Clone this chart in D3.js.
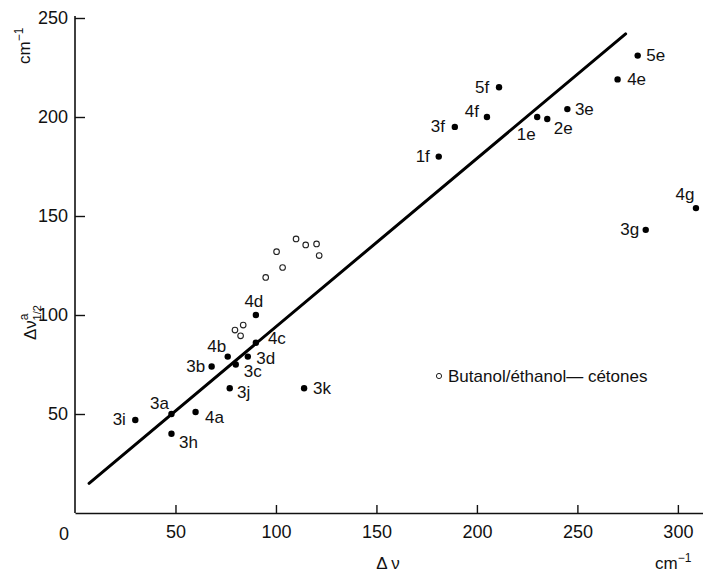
<!DOCTYPE html>
<html>
<head>
<meta charset="utf-8">
<script src="https://cdn.jsdelivr.net/npm/d3@7"></script>
<style>
  html, body { margin: 0; padding: 0; background: #fff; }
  svg { display: block; }
  text { font-family: "Liberation Sans", Arial, sans-serif; fill: #111; }
</style>
</head>
<body>
<svg id="chart" width="703" height="574"></svg>
<script>
// Compounds (filled dots): Δν vs Δν½ᵃ, both in cm⁻¹
const compounds = ["1e","2e","3e","4e","5e","1f","3f","4f","5f","3a","3b","3c","3d","3h","3i","3j","3k","4a","4b","4c","4d","3g","4g"];
const deltaNu   = [230, 235, 245, 270, 280, 181, 189, 205, 211, 48, 68, 80, 86, 48, 30, 77, 114, 60, 76, 90, 90, 284, 309];
const halfWidth = [200, 199, 204, 219, 231, 180, 195, 200, 215, 50, 74, 75, 79, 40, 47, 63, 63, 51, 79, 86, 100, 143, 154];

// Butanol/ethanol – ketone mixtures (open circles)
const mixNu   = [79.6, 83.7, 82.4, 94.9, 100.3, 103.3, 110, 114.8, 120.2, 121.5];
const mixHalf = [92.4, 94.9, 89.5, 119, 132, 124, 138.4, 135.4, 135.9, 130];

// Regression line end points
const fitNu   = [7, 274];
const fitHalf = [15, 242];

// Axis ticks
const xTicks = [50, 100, 150, 200, 250, 300];
const yTicks = [50, 100, 150, 200, 250];

// Label placement (pixel offsets of label centre from its dot)
const labelOffset = {
  "1e": [-11, 17], "2e": [16, 10], "3e": [17, 0], "4e": [19, 0], "5e": [18, 0],
  "1f": [-16, 0], "3f": [-17, 0], "4f": [-15, -6], "5f": [-17, 0],
  "3a": [-12, -11], "3b": [-16, 0], "3c": [17, 7], "3d": [18, 2], "3h": [17, 9],
  "3i": [-16, 0], "3j": [14, 4], "3k": [18, 0], "4a": [19, 5], "4b": [-11, -10],
  "4c": [21, -4], "4d": [-2, -14], "3g": [-16, 0], "4g": [-11, -14]
};

const svg = d3.select("#chart");
const x = d3.scaleLinear().domain([0, 312.5]).range([75, 703]);
const y = d3.scaleLinear().domain([0, 250]).range([513, 18]);

// Axes with inward ticks
const gx = svg.append("g").attr("transform", `translate(0,${y(0)})`)
  .call(d3.axisBottom(x).tickValues(xTicks).tickSizeInner(-8).tickSizeOuter(0).tickPadding(12));
const gy = svg.append("g").attr("transform", `translate(${x(0)},0)`)
  .call(d3.axisLeft(y).tickValues(yTicks).tickSizeInner(-10).tickSizeOuter(0).tickPadding(7));
[gx, gy].forEach(g => {
  g.select(".domain").attr("stroke", "#111").attr("stroke-width", 1.6);
  g.selectAll(".tick line").attr("stroke", "#111").attr("stroke-width", 1.4);
  g.selectAll(".tick text").attr("font-size", 18).attr("fill", "#111")
    .attr("font-family", "Liberation Sans, Arial, sans-serif");
});
// extend y axis to the top tick
gy.select(".domain").attr("d", `M0,${y(0)}V${y(250) - 2}`);

// Origin label
svg.append("text").attr("x", 64).attr("y", 540).attr("text-anchor", "middle")
  .attr("font-size", 18).text("0");

// Axis titles
svg.append("text").attr("x", 388).attr("y", 569).attr("text-anchor", "middle")
  .attr("font-size", 17).text("Δ ν");
const xu = svg.append("text").attr("x", 655).attr("y", 569).attr("font-size", 17);
xu.append("tspan").text("cm");
xu.append("tspan").attr("dy", -7).attr("font-size", 12).text("−1");

const yu = svg.append("text").attr("transform", "translate(30,64) rotate(-90)").attr("font-size", 17);
yu.append("tspan").text("cm");
yu.append("tspan").attr("dy", -7).attr("font-size", 12).text("−1");

const yl = svg.append("text").attr("transform", "translate(36,340) rotate(-90)").attr("font-size", 17);
yl.append("tspan").text("Δν");
yl.append("tspan").attr("dy", -8).attr("font-size", 12).text("a");
yl.append("tspan").attr("dy", 13).attr("dx", -7).attr("font-size", 11).text("1/2");

// Regression line
svg.append("line")
  .attr("x1", x(fitNu[0])).attr("y1", y(fitHalf[0]))
  .attr("x2", x(fitNu[1])).attr("y2", y(fitHalf[1]))
  .attr("stroke", "#000").attr("stroke-width", 3).attr("stroke-linecap", "round");

// Open circles
svg.append("g").selectAll("circle").data(mixNu).join("circle")
  .attr("cx", d => x(d)).attr("cy", (d, i) => y(mixHalf[i]))
  .attr("r", 2.8).attr("fill", "#fff").attr("stroke", "#222").attr("stroke-width", 1.1);

// Filled dots and their labels
const pts = compounds.map((c, i) => ({ c, nu: deltaNu[i], h: halfWidth[i] }));
svg.append("g").selectAll("circle").data(pts).join("circle")
  .attr("cx", d => x(d.nu)).attr("cy", d => y(d.h)).attr("r", 3.2).attr("fill", "#000");
svg.append("g").selectAll("text").data(pts).join("text")
  .attr("x", d => x(d.nu) + labelOffset[d.c][0])
  .attr("y", d => y(d.h) + labelOffset[d.c][1])
  .attr("text-anchor", "middle").attr("dominant-baseline", "central")
  .attr("font-size", 17).text(d => d.c);

// Legend
svg.append("circle").attr("cx", 439).attr("cy", 376).attr("r", 2.6)
  .attr("fill", "#fff").attr("stroke", "#222").attr("stroke-width", 1);
svg.append("text").attr("x", 448).attr("y", 382).attr("font-size", 17)
  .text("Butanol/éthanol— cétones");
</script>
</body>
</html>
